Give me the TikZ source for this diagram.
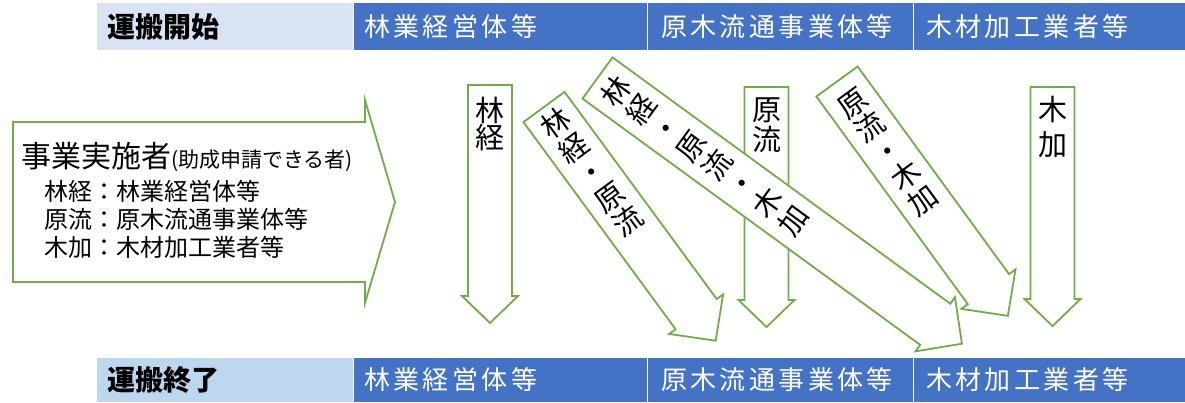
\documentclass[tikz,border=0pt]{standalone}
\usepackage{fontspec}
\setmainfont{Noto Sans CJK JP}
\newfontfamily\hdrfont[LetterSpace=13]{Noto Sans CJK JP}
\definecolor{hblue}{HTML}{4472C4}
\definecolor{hlav}{HTML}{DAE3F3}
\definecolor{hlblue}{HTML}{BDD7EE}
\definecolor{agreen}{HTML}{70AD47}
\newcommand{\tightlines}{\lineskiplimit=-100pt\lineskip=0pt}
\def\arsw{22}\def\arhw{28}\def\arhl{27}
% #1 name, #2 back centre, #3 rotation, #4 length, #5 text centre offset, #6 pitch, #7 text
\newcommand{\blockarrow}[7]{%
\begin{scope}[shift={#2}, rotate=#3]
\draw[arrowline] (-\arsw,0) -- (\arsw,0) -- (\arsw,#4-\arhl) -- (\arhw,#4-\arhl) -- (0,#4) -- (-\arhw,#4-\arhl) -- (-\arsw,#4-\arhl) -- cycle;
\node[arrowtext, font=\fontsize{29}{#6}\selectfont\tightlines] (#1) at (0,#5) {#7};
\end{scope}}
\tikzset{
  arrowline/.style={draw=agreen, line width=1.8pt, fill=white, line join=miter},
  arrowtext/.style={inner sep=0pt, align=center, transform shape},
  hdrbox/.style={draw=white, line width=1pt, anchor=north west, inner sep=0pt},
  hdrtext/.style={anchor=west, inner sep=0pt, text=white, font=\hdrfont\fontsize{26}{26}\selectfont},
  lbltext/.style={anchor=west, inner sep=0pt, font=\bfseries\fontsize{28}{28}\selectfont},
}
\begin{document}
\begin{tikzpicture}[x=1pt,y=-1pt]
\useasboundingbox (0,0) rectangle (1185,402);
\fill[white] (0,0) rectangle (1185,402);
% top bar
\node[hdrbox, fill=hlav, minimum width=257pt, minimum height=48pt] (s0) at (96,2) {};
\node[hdrbox, fill=hblue, minimum width=294pt, minimum height=48pt] (s1) at (353,2) {};
\node[hdrbox, fill=hblue, minimum width=266pt, minimum height=48pt] (s2) at (647,2) {};
\node[hdrbox, fill=hblue, minimum width=272pt, minimum height=48pt] (s3) at (913,2) {};
\node[lbltext] (s0t) at ([xshift=11pt]s0.west) {運搬開始};
\node[hdrtext] (s1t) at ([xshift=11pt]s1.west) {林業経営体等};
\node[hdrtext] (s2t) at ([xshift=14pt]s2.west) {原木流通事業体等};
\node[hdrtext] (s3t) at ([xshift=13pt]s3.west) {木材加工業者等};
% bottom bar
\node[hdrbox, fill=hlblue, minimum width=257pt, minimum height=45pt] (e0) at (96,357) {};
\node[hdrbox, fill=hblue, minimum width=294pt, minimum height=45pt] (e1) at (353,357) {};
\node[hdrbox, fill=hblue, minimum width=266pt, minimum height=45pt] (e2) at (647,357) {};
\node[hdrbox, fill=hblue, minimum width=272pt, minimum height=45pt] (e3) at (913,357) {};
\node[lbltext] (e0t) at ([xshift=11pt]e0.west) {運搬終了};
\node[hdrtext] (e1t) at ([xshift=11pt]e1.west) {林業経営体等};
\node[hdrtext] (e2t) at ([xshift=14pt]e2.west) {原木流通事業体等};
\node[hdrtext] (e3t) at ([xshift=13pt]e3.west) {木材加工業者等};
% left arrow
\draw[arrowline] (13,122) -- (365,122) -- (365,100) -- (395,202) -- (365,303) -- (365,282) -- (13,282) -- cycle;
\node[anchor=base west, inner sep=0pt, font=\fontsize{30}{30}\selectfont] (impl) at (21,167.5) {事業実施者{\fontsize{21}{21}\selectfont(助成申請できる者)}};
\node[anchor=base west, inner sep=0pt, font=\fontsize{24}{24}\selectfont] (k1) at (44,200) {林経：林業経営体等};
\node[anchor=base west, inner sep=0pt, font=\fontsize{24}{24}\selectfont] (k2) at (44,228) {原流：原木流通事業体等};
\node[anchor=base west, inner sep=0pt, font=\fontsize{24}{24}\selectfont] (k3) at (44,256.5) {木加：木材加工業者等};
% vertical arrows
\blockarrow{a1}{(490,85)}{0}{238}{38.75}{27.5}{林\\経}
\blockarrow{a4}{(766.5,87)}{0}{240}{38}{30}{原\\流}
\blockarrow{a6}{(1052.5,87)}{0}{239}{40}{35}{木\\加}
% diagonal arrows
\def\arsw{25.5}\def\arhw{33.5}\def\arhl{33}
\blockarrow{a2}{(544,107)}{36.3}{290}{80.8}{30.4}{林\\経\\・\\原\\流}
\blockarrow{a5}{(837,81.5)}{36.1}{290}{87}{30}{原\\流\\・\\木\\加}
\blockarrow{a3}{(597.5,78)}{53.9}{451}{132}{31.3}{林\\経\\・\\原\\流\\・\\木\\加}
\end{tikzpicture}
\end{document}
